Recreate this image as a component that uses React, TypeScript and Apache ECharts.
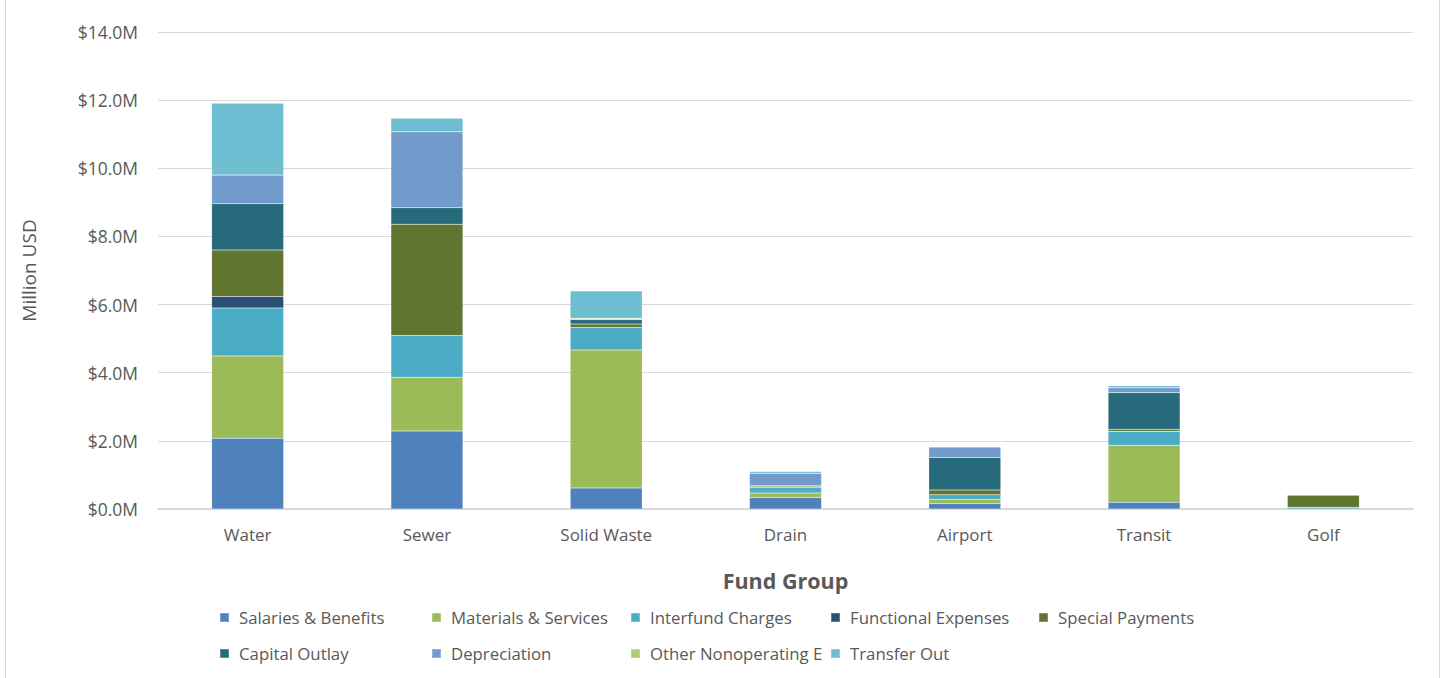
import React, { useEffect, useRef } from "react";
import * as echarts from "echarts";

const categories = ["Water", "Sewer", "Solid Waste", "Drain", "Airport", "Transit", "Golf"];
const salaries = [2.08, 2.29, 0.62, 0.34, 0.16, 0.2, 0];
const materials = [2.41, 1.58, 4.05, 0.13, 0.12, 1.67, 0];
const interfund = [1.41, 1.22, 0.66, 0.16, 0.14, 0.41, 0.05];
const functional = [0.34, 0, 0, 0, 0, 0, 0];
const special = [1.36, 3.27, 0.1, 0.04, 0.14, 0.06, 0.36];
const capital = [1.36, 0.48, 0.13, 0.02, 0.95, 1.07, 0];
const depreciation = [0.84, 2.23, 0.02, 0.36, 0.31, 0.15, 0];
const otherNonop = [0, 0, 0.02, 0, 0, 0, 0];
const transferOut = [2.11, 0.4, 0.8, 0.05, 0, 0.06, 0];

const seriesNames = [
  "Salaries & Benefits",
  "Materials & Services",
  "Interfund Charges",
  "Functional Expenses",
  "Special Payments",
  "Capital Outlay",
  "Depreciation",
  "Other Nonoperating E",
  "Transfer Out",
];
const seriesData = [salaries, materials, interfund, functional, special, capital, depreciation, otherNonop, transferOut];
const colors = ["#4F81BD", "#9BBB59", "#4BACC6", "#2C4D75", "#5F7530", "#276A7C", "#729ACA", "#AFC97A", "#6FBDD1"];
const legendLeft = [219, 431, 630, 830, 1038, 219, 431, 630, 830];
const legendTop = [609, 609, 609, 609, 609, 645, 645, 645, 645];

const FONT = "'Open Sans', sans-serif";
const GRAY = "#595959";

export default function App() {
  const ref = useRef<HTMLDivElement>(null);
  useEffect(() => {
    if (!ref.current) return;
    const chart = echarts.init(ref.current, undefined, { renderer: "svg" });
    chart.setOption({
      animation: false,
      textStyle: { fontFamily: FONT },
      grid: { left: 158, right: 35, top: 32, bottom: 169 },
      graphic: [
        { type: "line", shape: { x1: 5.5, y1: 0, x2: 5.5, y2: 678 }, style: { stroke: "#D9D9D9", lineWidth: 1 } },
        { type: "line", shape: { x1: 1439.5, y1: 0, x2: 1439.5, y2: 678 }, style: { stroke: "#D9D9D9", lineWidth: 1 } },
      ],
      legend: seriesNames.map((n, i) => ({
        data: [n],
        left: legendLeft[i],
        top: legendTop[i],
        itemWidth: 9,
        itemHeight: 9,
        icon: "rect",
        padding: 0,
        textStyle: { color: GRAY, fontSize: 16.8, fontFamily: FONT, padding: [0, 0, 0, 5] },
      })),
      xAxis: {
        type: "category",
        data: categories,
        name: "Fund Group",
        nameLocation: "middle",
        nameGap: 60,
        nameTextStyle: { color: GRAY, fontSize: 21.5, fontWeight: "bold", fontFamily: FONT },
        axisLine: { lineStyle: { color: "#D9D9D9", width: 2 } },
        axisTick: { show: false },
        axisLabel: { color: GRAY, fontSize: 17, margin: 17, fontFamily: FONT },
      },
      yAxis: {
        type: "value",
        min: 0,
        max: 14,
        interval: 2,
        name: "Million USD",
        nameLocation: "middle",
        nameGap: 120,
        nameTextStyle: { color: GRAY, fontSize: 19, fontFamily: FONT },
        axisLine: { show: false },
        axisTick: { show: false },
        splitLine: { lineStyle: { color: "#D9D9D9", width: 1 } },
        axisLabel: {
          color: GRAY,
          fontSize: 17.5,
          margin: 20,
          fontFamily: FONT,
          formatter: (v: number) => `$${v.toFixed(1)}M`,
        },
      },
      series: seriesNames.map((n, i) => ({
        name: n,
        type: "bar",
        stack: "total",
        barWidth: 72,
        data: seriesData[i],
        itemStyle: { color: colors[i], borderColor: "rgba(255,255,255,0.25)", borderWidth: 0.5 },
      })),
    });
    return () => chart.dispose();
  }, []);
  return (
    <div
      ref={ref}
      style={{ position: "fixed", left: 0, top: 0, width: 1448, height: 678, background: "#fff" }}
    />
  );
}
